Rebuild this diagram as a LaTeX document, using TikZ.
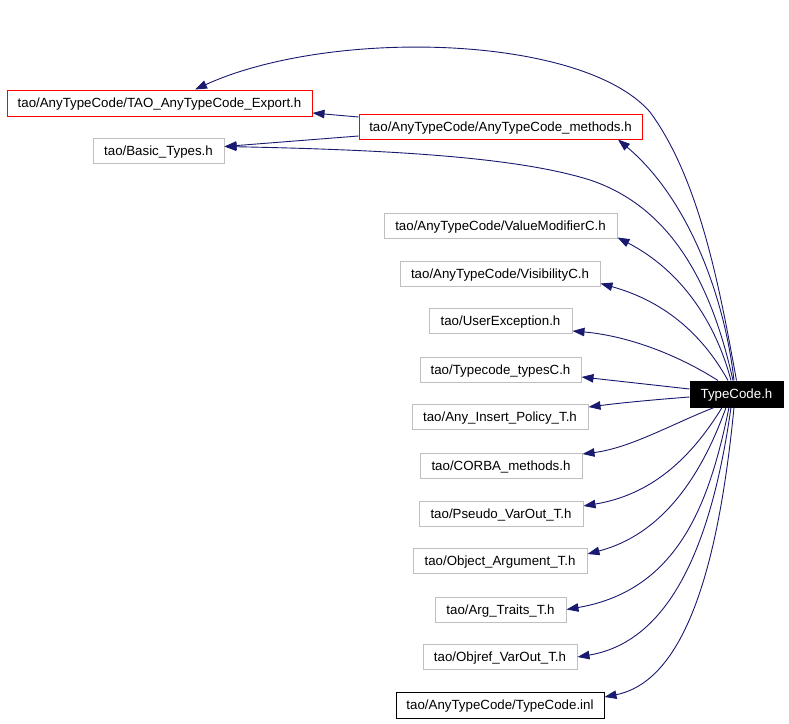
\documentclass[tikz,border=0pt]{standalone}
\usepackage{fontspec}
\setmainfont{Liberation Sans}
\usetikzlibrary{arrows.meta}
\definecolor{edgec}{HTML}{191970}
\definecolor{grayb}{HTML}{BFBFBF}
\begin{document}
\begin{tikzpicture}[x=1pt,y=-1pt,
  box/.style={draw, line width=1pt, inner sep=0pt, minimum height=25pt, text height=9.3pt, text depth=0pt, font=\fontsize{13.3}{15}\selectfont, anchor=center},
  gbox/.style={box, draw=grayb},
  rbox/.style={box, draw=red},
  kbox/.style={box, draw=black},
  dep/.style={draw=edgec, line width=0.9pt, -{Triangle[length=12pt,width=8.5pt]}}
]
\fill[white] (0,0) rectangle (789,723);
\useasboundingbox (0,0) rectangle (789,723);

\node[rbox, minimum width=305pt, minimum height=26pt] (exp) at (159.5,103) {tao/AnyTypeCode/TAO\_AnyTypeCode\_Export.h};
\node[rbox, minimum width=283pt] (meth) at (500.5,126.5) {tao/AnyTypeCode/AnyTypeCode\_methods.h};
\node[gbox, minimum width=131pt] (basic) at (158.5,150.5) {tao/Basic\_Types.h};
\node[gbox, minimum width=233pt] (vmod) at (500.5,225.5) {tao/AnyTypeCode/ValueModifierC.h};
\node[gbox, minimum width=200pt] (vis) at (500,273.5) {tao/AnyTypeCode/VisibilityC.h};
\node[gbox, minimum width=143pt] (uex) at (500.5,321) {tao/UserException.h};
\node[gbox, minimum width=161pt] (tct) at (500.5,369.5) {tao/Typecode\_typesC.h};
\node[gbox, minimum width=176pt] (anyins) at (500,417) {tao/Any\_Insert\_Policy\_T.h};
\node[gbox, minimum width=162pt] (corba) at (501,465.5) {tao/CORBA\_methods.h};
\node[gbox, minimum width=164pt] (pseudo) at (501,513.5) {tao/Pseudo\_VarOut\_T.h};
\node[gbox, minimum width=174pt] (objarg) at (500,561) {tao/Object\_Argument\_T.h};
\node[gbox, minimum width=131pt] (argtr) at (500.5,609.5) {tao/Arg\_Traits\_T.h};
\node[gbox, minimum width=154pt] (objref) at (500,657) {tao/Objref\_VarOut\_T.h};
\node[kbox, minimum width=208pt, minimum height=26pt] (inl) at (500,705) {tao/AnyTypeCode/TypeCode.inl};
\node[box, draw=black, fill=black, text=white, minimum width=93pt, minimum height=26pt] (tc) at (736.5,394) {TypeCode.h};

% edges from TypeCode.h
\draw[dep] (tc.north) .. controls (720,290) and (700,180) .. (650,112)
  .. controls (582,34) and (330,28) .. ([xshift=35.5pt]exp.north);
\draw[dep] ([xshift=-2.5pt]tc.north) .. controls (725,300) and (690,200) .. ([xshift=117.5pt]meth.south);
\draw[dep] ([xshift=-3.5pt]tc.north) .. controls (715,300) and (680,210) .. (590,180)
  .. controls (520,158) and (400,150) .. ([yshift=4pt]basic.east);
\draw[dep] ([xshift=-5.5pt]tc.north) .. controls (715,320) and (680,270) .. ([yshift=1pt]vmod.south east);
\draw[dep] ([xshift=-8.5pt]tc.north) .. controls (700,330) and (660,300) .. ([yshift=3pt]vis.south east);
\draw[dep] ([xshift=-18.5pt]tc.north) .. controls (670,350) and (620,335) .. ([yshift=3pt]uex.south east);
\draw[dep] ([yshift=5pt]tc.west) -- ([yshift=-7.5pt]tct.east);
\draw[dep] ([yshift=-3pt]tc.west) .. controls (650,400) and (620,403) .. ([yshift=10pt]anyins.east);
\draw[dep] ([xshift=-22.5pt]tc.south) .. controls (670,425) and (630,448) .. ([yshift=11.5pt]corba.east);
\draw[dep] ([xshift=-14.5pt]tc.south) .. controls (690,460) and (650,495) .. ([yshift=7.5pt]pseudo.east);
\draw[dep] ([xshift=-10.5pt]tc.south) .. controls (700,480) and (660,535) .. ([yshift=7pt]objarg.east);
\draw[dep] ([xshift=-7.5pt]tc.south) .. controls (710,500) and (680,590) .. (argtr.east);
\draw[dep] ([xshift=-5.5pt]tc.south) .. controls (715,520) and (680,640) .. (objref.east);
\draw[dep] ([xshift=-2.5pt]tc.south) .. controls (720,550) and (690,680) .. ([yshift=8pt]inl.east);

% edges from AnyTypeCode_methods.h
\draw[dep] ([yshift=9.5pt]meth.west) -- ([yshift=-10pt]exp.east);
\draw[dep] ([yshift=-9.5pt]meth.west) -- ([yshift=4pt]basic.east);
\end{tikzpicture}
\end{document}
